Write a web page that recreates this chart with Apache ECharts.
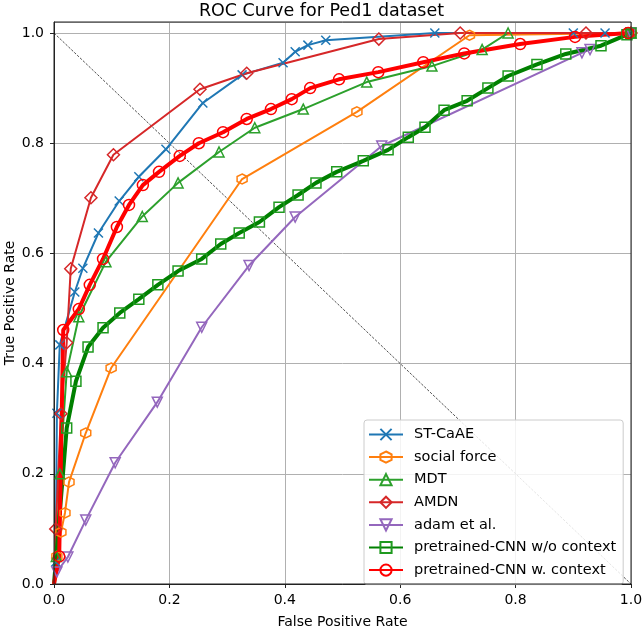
<!DOCTYPE html>
<html>
<head>
<meta charset="utf-8">
<script src="https://cdn.jsdelivr.net/npm/echarts@6/dist/echarts.min.js"></script>
<style>html,body{margin:0;padding:0;background:#fff}#c{width:643px;height:627px}</style>
</head>
<body>
<div id="c"></div>
<script>
const xTicks = [0, 0.2, 0.4, 0.6, 0.8, 1.0];
const yTicks = [0, 0.2, 0.4, 0.6, 0.8, 1.0];
const seriesNames = ['ST-CaAE', 'social force', 'MDT', 'AMDN', 'adam et al.', 'pretrained-CNN w/o context', 'pretrained-CNN w. context'];

const stcaaeX = [0, 0.003, 0.005, 0.01, 0.036, 0.05, 0.077, 0.113, 0.147, 0.194, 0.258, 0.326, 0.397, 0.418, 0.44, 0.471, 0.66, 0.9, 0.955, 1.0];
const stcaaeY = [0, 0.04, 0.31, 0.434, 0.53, 0.573, 0.637, 0.695, 0.739, 0.789, 0.873, 0.924, 0.946, 0.966, 0.978, 0.987, 1.0, 1.0, 1.0, 1.0];

const socialX = [0, 0.005, 0.012, 0.019, 0.026, 0.055, 0.099, 0.326, 0.525, 0.72, 1.0];
const socialY = [0, 0.05, 0.094, 0.129, 0.185, 0.274, 0.392, 0.735, 0.857, 0.996, 1.0];

const mdtX = [0, 0.004, 0.01, 0.022, 0.043, 0.09, 0.153, 0.215, 0.286, 0.348, 0.432, 0.542, 0.655, 0.742, 0.787, 1.0];
const mdtY = [0, 0.05, 0.2, 0.385, 0.485, 0.585, 0.667, 0.728, 0.784, 0.828, 0.862, 0.911, 0.94, 0.97, 1.0, 1.0];

const amdnX = [0, 0.003, 0.012, 0.022, 0.029, 0.064, 0.103, 0.253, 0.334, 0.563, 0.704, 0.922, 1.0];
const amdnY = [0, 0.1, 0.309, 0.438, 0.572, 0.701, 0.779, 0.898, 0.927, 0.989, 1.0, 1.0, 1.0];

const adamX = [0, 0.005, 0.024, 0.055, 0.106, 0.179, 0.256, 0.338, 0.418, 0.568, 0.915, 0.929, 1.0];
const adamY = [0, 0.022, 0.049, 0.116, 0.22, 0.33, 0.466, 0.578, 0.666, 0.795, 0.964, 0.97, 1.0];

const noCtxX = [0, 0.022, 0.038, 0.059, 0.085, 0.114, 0.147, 0.18, 0.215, 0.256, 0.289, 0.321, 0.356, 0.39, 0.423, 0.454, 0.49, 0.536, 0.579, 0.614, 0.643, 0.676, 0.716, 0.752, 0.787, 0.837, 0.887, 0.948, 0.993, 1.0];
const noCtxY = [0, 0.283, 0.368, 0.43, 0.465, 0.492, 0.517, 0.543, 0.568, 0.59, 0.617, 0.637, 0.657, 0.684, 0.706, 0.728, 0.748, 0.768, 0.788, 0.811, 0.829, 0.86, 0.877, 0.9, 0.922, 0.943, 0.962, 0.977, 0.997, 1.0];

const ctxX = [0, 0.009, 0.016, 0.043, 0.062, 0.085, 0.109, 0.13, 0.154, 0.182, 0.218, 0.251, 0.293, 0.334, 0.376, 0.412, 0.444, 0.494, 0.562, 0.64, 0.711, 0.808, 0.903, 0.995];
const ctxY = [0, 0.05, 0.461, 0.499, 0.543, 0.59, 0.648, 0.688, 0.724, 0.748, 0.777, 0.8, 0.82, 0.844, 0.862, 0.88, 0.9, 0.916, 0.929, 0.947, 0.963, 0.98, 0.993, 1.0];

const diagX = [0, 1];
const diagY = [1, 0];

// points at the origin are drawn as line vertices only (no marker)
const zip = (xs, ys) => xs.map((x, i) => (x === 0 && ys[i] === 0) ? { value: [x, ys[i]], symbol: 'none' } : [x, ys[i]]);
const FONT = 'DejaVu Sans';

const XPATH = 'path://M0,0L10,10M10,0L0,10';
const HEXPATH = 'path://M5,0L9.33,2.5L9.33,7.5L5,10L0.67,7.5L0.67,2.5Z';

function mk(name, xs, ys, color, symbol, size, lw, extra) {
  return Object.assign({
    name: name,
    type: 'line',
    data: zip(xs, ys),
    symbol: symbol,
    symbolSize: size,
    showAllSymbol: true,
    clip: false,
    lineStyle: { color: color, width: lw },
    itemStyle: { color: 'rgba(255,255,255,0)', borderColor: color, borderWidth: 1.5 },
    emphasis: { disabled: true },
    animation: false
  }, extra || {});
}

const chart = echarts.init(document.getElementById('c'), null, { renderer: 'canvas' });
chart.setOption({
  animation: false,
  backgroundColor: '#ffffff',
  title: {
    text: 'ROC Curve for Ped1 dataset',
    left: 'center',
    top: 0,
    padding: [2, 0, 0, 2],
    textStyle: { fontFamily: FONT, fontSize: 17.5, fontWeight: 'normal', color: '#000' }
  },
  grid: { left: 54, right: 12, top: 22, bottom: 43, show: false, containLabel: false, outerBoundsMode: 'none' },
  xAxis: {
    type: 'value', min: 0, max: 1, interval: 0.2,
    name: 'False Positive Rate', nameLocation: 'middle', nameGap: 31, nameMoveOverlap: false,
    nameTextStyle: { fontFamily: FONT, fontSize: 14, color: '#000' },
    axisLine: { show: true, onZero: false, lineStyle: { color: '#222', width: 1 } },
    axisTick: { show: true, length: 4, lineStyle: { color: '#222' } },
    axisLabel: { fontFamily: FONT, fontSize: 14, color: '#000', margin: 9, formatter: v => v.toFixed(1) },
    splitLine: { show: true, lineStyle: { color: '#b0b0b0', width: 1 } }
  },
  yAxis: {
    type: 'value', min: 0, max: 1.02, interval: 0.2,
    name: 'True Positive Rate', nameLocation: 'middle', nameGap: 37, nameRotate: 90, nameMoveOverlap: false,
    nameTextStyle: { fontFamily: FONT, fontSize: 14, color: '#000' },
    axisLine: { show: true, onZero: false, lineStyle: { color: '#222', width: 1 } },
    axisTick: { show: true, length: 4, lineStyle: { color: '#222' } },
    axisLabel: { fontFamily: FONT, fontSize: 14, color: '#000', margin: 10, showMaxLabel: false,
      formatter: v => (Math.abs(v - Math.round(v * 5) / 5) < 1e-6 ? v.toFixed(1) : '') },
    splitLine: { show: true, lineStyle: { color: '#b0b0b0', width: 1 } }
  },
  legend: {
    data: seriesNames,
    orient: 'vertical',
    left: 364, top: 420,
    itemWidth: 34, itemHeight: 14,
    itemGap: 7.6,
    padding: [7, 7, 7, 4],
    backgroundColor: 'rgba(255,255,255,0.85)',
    borderColor: '#cccccc', borderWidth: 1, borderRadius: 3,
    textStyle: { fontFamily: FONT, fontSize: 14.5, lineHeight: 14, color: '#000', padding: [0, 0, 0, 6] }
  },
  series: [
    {
      name: 'diag', type: 'line', data: zip(diagX, diagY), symbol: 'none', silent: true,
      lineStyle: { color: '#000', width: 0.7, type: [2.5, 1.5] }, animation: false, z: 1
    },
    mk(seriesNames[0], stcaaeX, stcaaeY, '#1f77b4', XPATH, 9, 2),
    mk(seriesNames[1], socialX, socialY, '#ff7f0e', HEXPATH, 10, 2),
    mk(seriesNames[2], mdtX, mdtY, '#2ca02c', 'triangle', 10, 2),
    mk(seriesNames[3], amdnX, amdnY, '#d62728', 'diamond', 12, 2),
    mk(seriesNames[4], adamX, adamY, '#9467bd', 'triangle', 10, 2, { symbolRotate: 180 }),
    mk(seriesNames[5], noCtxX, noCtxY, '#008000', 'rect', 10, 4, { itemStyle: { color: 'rgba(255,255,255,0)', borderColor: '#1f9a1f', borderWidth: 1.5 } }),
    mk(seriesNames[6], ctxX, ctxY, '#ff0000', 'circle', 11, 4)
  ]
});
chart.setOption({
  graphic: [{
    type: 'rect', silent: true, z: 100,
    shape: { x: 54, y: 22, width: 577, height: 562 },
    style: { fill: null, stroke: '#222', lineWidth: 1 }
  }]
});
</script>
</body>
</html>
